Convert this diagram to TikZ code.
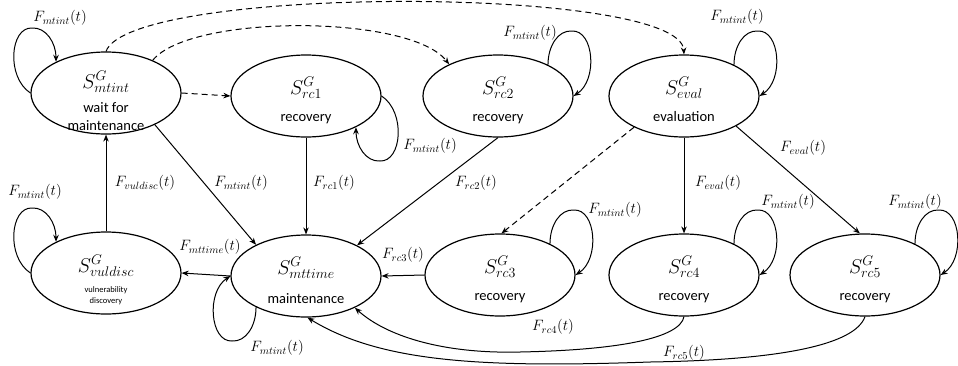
\RequirePackage{fix-cm}
\documentclass[tikz,border=0pt]{standalone}
\usepackage[no-math]{fontspec}
\newfontfamily\labelfont{Carlito}
\usetikzlibrary{shapes.geometric,arrows.meta,calc}

\tikzset{
  x=1pt, y=-1pt,
  state/.style={ellipse, draw, line width=1.2pt, minimum width=150pt,
    minimum height=82pt, inner sep=0pt},
  edge/.style={line width=1pt, -{Stealth[length=7pt,width=5.5pt]}},
  revedge/.style={line width=1pt, {Stealth[length=7pt,width=5.5pt]}-},
  dashedge/.style={edge, dash pattern=on 6pt off 4pt},
  flab/.style={font=\fontsize{15}{17}\selectfont, inner sep=0pt},
  stitle/.style={anchor=base, font=\fontsize{20}{22}\selectfont, inner sep=0pt},
  sdesc/.style={anchor=base, font=\labelfont\fontsize{14.5}{16}\selectfont, inner sep=0pt},
  sdescsmall/.style={anchor=base, font=\labelfont\fontsize{8.5}{10}\selectfont, inner sep=0pt},
}

% self loop: node, x sign, y sign, start anchor, end anchor, edge style
\newcommand\stateloop[6]{%
  \draw[#6] (#1.#4)
    .. controls ($(#1.center)+({50*#2},{-50*#3})$) and ($(#1.center)+({60*#2},{-66*#3})$)
    .. ($(#1.center)+({74*#2},{-65*#3})$)
    .. controls ($(#1.center)+({96*#2},{-66*#3})$) and ($(#1.center)+({100*#2},{-16*#3})$)
    .. (#1.#5);}

\begin{document}
\begin{tikzpicture}
\useasboundingbox (0,0) rectangle (958,365);

% states
\node[state] (mtint)   at (106,93)  {};
\node[state] (rc1)     at (306,96)  {};
\node[state] (rc2)     at (498,96)  {};
\node[state] (eval)    at (684,96)  {};
\node[state] (vuldisc) at (106,273) {};
\node[state] (mttime)  at (306,276) {};
\node[state] (rc3)     at (500,275) {};
\node[state] (rc4)     at (684,275) {};
\node[state] (rc5)     at (865,275) {};

% state texts
\node[stitle] (mtintS) at ($(mtint.center)+(0,-5)$) {$S^{G}_{mtint}$};
\node[sdesc] (mtintA) at ($(mtint.center)+(0,19)$) {wait for};
\node[sdesc] (mtintB) at ($(mtint.center)+(0,37)$) {maintenance};

\node[stitle] (rc1S) at ($(rc1.center)+(0,-2)$) {$S^{G}_{rc1}$};
\node[sdesc] (rc1A) at ($(rc1.center)+(0,25)$) {recovery};

\node[stitle] (rc2S) at ($(rc2.center)+(0,-2)$) {$S^{G}_{rc2}$};
\node[sdesc] (rc2A) at ($(rc2.center)+(0,25)$) {recovery};

\node[stitle] (evalS) at ($(eval.center)+(0,-2)$) {$S^{G}_{eval}$};
\node[sdesc] (evalA) at ($(eval.center)+(0,25)$) {evaluation};

\node[stitle] (vuldiscS) at ($(vuldisc.center)+(0,-1)$) {$S^{G}_{vuldisc}$};
\node[sdescsmall] (vuldiscA) at ($(vuldisc.center)+(0,19)$) {vulnerability};
\node[sdescsmall] (vuldiscB) at ($(vuldisc.center)+(0,30)$) {discovery};

\node[stitle] (mttimeS) at ($(mttime.center)+(0,-2)$) {$S^{G}_{mttime}$};
\node[sdesc] (mttimeA) at ($(mttime.center)+(0,27)$) {maintenance};

\node[stitle] (rc3S) at ($(rc3.center)+(0,-2)$) {$S^{G}_{rc3}$};
\node[sdesc] (rc3A) at ($(rc3.center)+(0,25)$) {recovery};

\node[stitle] (rc4S) at ($(rc4.center)+(0,-2)$) {$S^{G}_{rc4}$};
\node[sdesc] (rc4A) at ($(rc4.center)+(0,25)$) {recovery};

\node[stitle] (rc5S) at ($(rc5.center)+(0,-2)$) {$S^{G}_{rc5}$};
\node[sdesc] (rc5A) at ($(rc5.center)+(0,25)$) {recovery};

% dashed transitions
\draw[dashedge] (mtint.east) -- (rc1.west);
\draw[dashedge] (mtint.35) .. controls (190,14) and (410,14) .. (rc2.147);
\draw[dashedge] (mtint.north) .. controls (130,-15) and (680,-15) .. (eval.north);
\draw[dashedge] (eval.212) -- (rc3.88);

% solid transitions
\draw[edge] (mtint.-33) -- (mttime.148);
\draw[edge] (rc1.south) -- (mttime.north);
\draw[edge] (rc2.south) -- (mttime.31);
\draw[edge] (eval.south) -- (rc4.north);
\draw[edge] (eval.-30) -- (rc5.97);
\draw[edge] (vuldisc.north) -- (mtint.south);
\draw[edge] (mttime.west) -- (vuldisc.east);
\draw[edge] (rc3.west) -- (mttime.east);
\draw[edge] (rc4.south) .. controls (680,338) and (620,350) .. (520,352)
  .. controls (440,354) and (385,335) .. (mttime.-33);
\draw[edge] (rc5.south) .. controls (855,345) and (780,360) .. (650,362)
  .. controls (480,368) and (380,362) .. (mttime.-88);

% self loops
\stateloop{rc2}{1}{1}{32}{east}{edge}
\stateloop{eval}{1}{1}{32}{east}{edge}
\stateloop{rc3}{1}{1}{32}{east}{edge}
\stateloop{rc4}{1}{1}{32}{east}{edge}
\stateloop{rc5}{1}{1}{32}{east}{edge}
\stateloop{mtint}{-1}{1}{148}{west}{revedge}
\stateloop{vuldisc}{-1}{1}{148}{west}{revedge}
\stateloop{rc1}{1}{-1}{-32}{east}{revedge}
\stateloop{mttime}{-1}{-1}{212}{west}{edge}

% transition rates
\node[flab] (l1)  at (60,18)   {$F_{mtint}(t)$};
\node[flab] (l2)  at (530,33)  {$F_{mtint}(t)$};
\node[flab] (l3)  at (737,17)  {$F_{mtint}(t)$};
\node[flab] (l4)  at (430,146) {$F_{mtint}(t)$};
\node[flab] (l5)  at (803,148) {$F_{eval}(t)$};
\node[flab] (l6)  at (145,183) {$F_{vuldisc}(t)$};
\node[flab] (l7)  at (241,183) {$F_{mtint}(t)$};
\node[flab] (l8)  at (334,183) {$F_{rc1}(t)$};
\node[flab] (l9)  at (476,183) {$F_{rc2}(t)$};
\node[flab] (l10) at (718,183) {$F_{eval}(t)$};
\node[flab] (l11) at (35,192)  {$F_{mtint}(t)$};
\node[flab] (l12) at (210,247) {$F_{mttime}(t)$};
\node[flab] (l13) at (403,255) {$F_{rc3}(t)$};
\node[flab] (l14) at (615,210) {$F_{mtint}(t)$};
\node[flab] (l15) at (788,202) {$F_{mtint}(t)$};
\node[flab] (l16) at (915,202) {$F_{mtint}(t)$};
\node[flab] (l17) at (553,327) {$F_{rc4}(t)$};
\node[flab] (l18) at (684,353) {$F_{rc5}(t)$};
\node[flab] (l19) at (277,348) {$F_{mtint}(t)$};
\end{tikzpicture}
\end{document}
